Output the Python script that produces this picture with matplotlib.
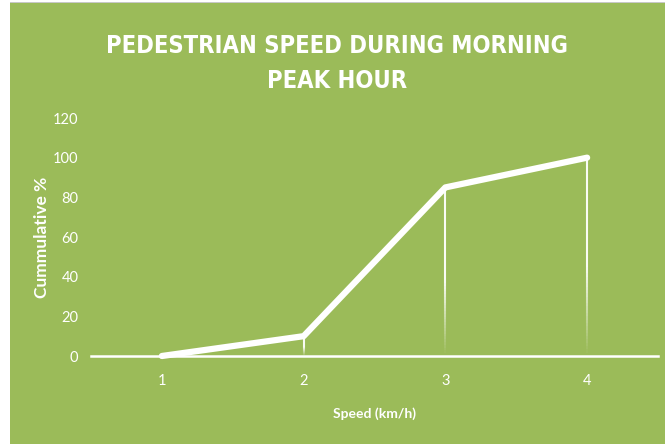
import matplotlib
matplotlib.use("Agg")
import matplotlib.pyplot as plt
from matplotlib.patches import Rectangle
from matplotlib.collections import LineCollection
import numpy as np

categories = ["1", "2", "3", "4"]
cumulative = [0, 10, 85, 100]
yticks = [0, 20, 40, 60, 80, 100, 120]

GREEN = "#9BBB59"
FONT = ["Lato", "DejaVu Sans"]
W, H = 665, 444
fig = plt.figure(figsize=(W / 100, H / 100), dpi=100, facecolor="white")

# green chart area with a thin grey top edge
fig.patches.append(Rectangle((10 / W, 0), 1 - 10 / W, 1 - 3 / H, transform=fig.transFigure,
                             facecolor=GREEN, edgecolor="none", zorder=-5))
fig.patches.append(Rectangle((10 / W, 1 - 3 / H), 1 - 10 / W, 1.2 / H, transform=fig.transFigure,
                             facecolor="#c8c8c8", edgecolor="none", zorder=-5))

left, right = 91 / W, 658 / W
bottom, top = 1 - 356 / H, 1 - 118 / H
ax = fig.add_axes([left, bottom, right - left, top - bottom], zorder=5)
ax.set_facecolor("none")

x = np.arange(1, len(categories) + 1)
ax.set_xlim(0.5, len(categories) + 0.5)
ax.set_ylim(0, 120)

# drop lines, fading towards the axis
for xi, yi in zip(x, cumulative):
    if yi <= 0:
        continue
    n = 60
    ys = np.linspace(0, yi, n + 1)
    segs = [[(xi, ys[i]), (xi, ys[i + 1])] for i in range(n)]
    frac = np.linspace(0, 1, n)
    alphas = np.clip(frac * 2.2, 0, 1) * 0.95
    colors = [(1, 1, 1, a) for a in alphas]
    lc = LineCollection(segs, colors=colors, linewidths=1.5, zorder=2)
    ax.add_collection(lc)

ax.plot(x, cumulative, color="white", lw=4.5, solid_capstyle="round",
        solid_joinstyle="round", zorder=3, clip_on=False)

for s in ["top", "right", "left"]:
    ax.spines[s].set_visible(False)
ax.spines["bottom"].set_color("white")
ax.spines["bottom"].set_linewidth(1.8)

ax.set_xticks(x)
ax.set_xticklabels(categories)
ax.set_yticks(yticks)
ax.tick_params(axis="both", length=0, colors="white", labelsize=10.5)
ax.tick_params(axis="x", pad=13)
ax.tick_params(axis="y", pad=9)
for lab in ax.get_xticklabels() + ax.get_yticklabels():
    lab.set_family(FONT)

ax.set_xlabel("Speed (km/h)", color="white", fontsize=10, fontweight="bold",
              family=FONT, labelpad=14)
ax.set_ylabel("Cummulative %", color="white", fontsize=12.5, fontweight="bold",
              family=FONT, labelpad=2)

TFONT = dict(color="white", fontsize=17, fontweight="bold", family="DejaVu Sans",
             fontstretch="condensed", ha="center", va="center")
fig.text(337 / W, 1 - 46 / H, "PEDESTRIAN SPEED DURING MORNING", **TFONT)
fig.text(337 / W, 1 - 81 / H, "PEAK HOUR", **TFONT)

fig.savefig("out.png", dpi=100, facecolor="white")
